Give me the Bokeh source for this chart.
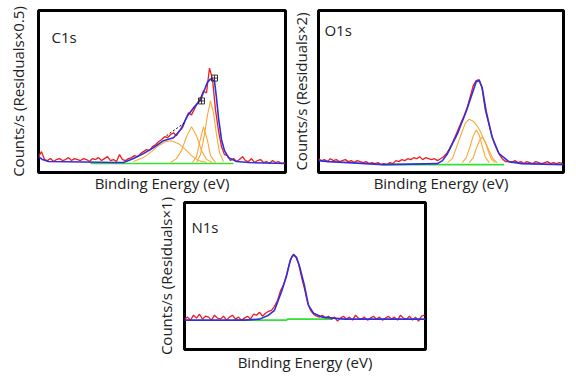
from bokeh.plotting import figure
from bokeh.models import Range1d, Label, FixedTicker, Spacer
from bokeh.layouts import column, row
from bokeh.embed import file_html
from bokeh.resources import INLINE

# ---------------- C1s ----------------
c1s_step = 3
c1s_counts = [16, 21, 13, 12, 14, 11, 13, 14, 12, 13, 15, 12, 14, 13, 12, 14, 13, 11, 14, 13,
              15, 12, 14, 16, 12, 13, 11, 18, 13, 12, 14, 15, 17, 16, 19, 21, 23, 22, 26, 28,
              31, 33, 36, 35, 38, 40, 37, 42, 45, 53, 60, 58, 64, 70, 75, 82, 80, 105, 94, 63,
              42, 26, 18, 17, 12, 14, 11, 13, 16, 12, 11, 14, 10, 12, 13, 10, 11, 9, 12, 10,
              11, 9, 10]
c1s_env_x = [0, 4, 10, 78, 85, 95, 105, 115, 125, 135, 142, 149, 155, 162, 169, 172, 176, 178,
             180, 183, 186, 190, 198, 210, 247]
c1s_env_y = [16, 13, 11, 10, 10, 14, 19, 25, 32, 35, 43, 57, 65, 73, 91, 94, 92, 75,
             55, 33, 22, 15, 11, 10, 9]
c1s_comp1_x = [95, 105, 113, 120, 127, 133, 140, 147, 153, 160, 168]
c1s_comp1_y = [11, 15, 21, 27, 31, 32, 29, 23, 17, 12, 10]
c1s_comp2_x = [132, 138, 143, 148, 153, 158, 163, 168, 174]
c1s_comp2_y = [10, 14, 22, 36, 46, 37, 22, 13, 10]
c1s_comp3_x = [154, 158, 161, 165, 169, 172, 177]
c1s_comp3_y = [10, 16, 30, 46, 32, 17, 10]
c1s_comp4_x = [158, 162, 166, 169, 172, 175, 178, 181, 185]
c1s_comp4_y = [10, 18, 38, 58, 72, 60, 38, 20, 11]
c1s_bg_x = [52, 195]
c1s_bg_y = [9, 9]
c1s_res_x = [128, 146]
c1s_res_y = [37, 50]
c1s_mark_x = [163, 176]
c1s_mark_y = [72, 95]

# ---------------- O1s ----------------
o1s_step = 3
o1s_counts = [14, 12, 13, 11, 14, 12, 13, 11, 12, 13, 11, 12, 10, 12, 11, 10, 11, 9, 10, 9,
              10, 8, 9, 8, 10, 9, 12, 11, 13, 12, 14, 13, 15, 14, 16, 13, 15, 14, 13, 14,
              12, 14, 16, 19, 24, 30, 37, 44, 51, 58, 66, 77, 88, 93, 94, 85, 64, 52, 40, 30,
              23, 17, 13, 11, 11, 10, 12, 10, 11, 9, 11, 10, 9, 11, 10, 9, 10, 11, 9, 10,
              9, 10, 9]
o1s_env_x = [0, 10, 30, 65, 120, 125, 130, 140, 149, 155, 159, 162, 165, 169, 175, 182, 192,
             205, 247]
o1s_env_y = [12, 11, 10, 8, 9, 12, 19, 39, 62, 80, 92, 93, 86, 62, 36, 19, 11, 9, 8]
o1s_comp1_x = [130, 135, 140, 145, 148, 152, 156, 160, 163, 167, 172, 176, 180]
o1s_comp1_y = [10, 14, 28, 42, 50, 54, 52, 47, 42, 33, 22, 14, 10]
o1s_comp2_x = [145, 149, 153, 156, 159, 162, 165, 168, 172]
o1s_comp2_y = [10, 15, 27, 37, 43, 38, 27, 16, 10]
o1s_comp3_x = [152, 156, 159, 162, 165, 168, 171, 174, 178]
o1s_comp3_y = [10, 15, 24, 32, 36, 31, 22, 14, 10]
o1s_bg_x = [64, 187]
o1s_bg_y = [8, 8]

# ---------------- N1s ----------------
n1s_step = 3
n1s_counts = [31, 33, 30, 35, 32, 36, 31, 34, 33, 30, 35, 32, 31, 34, 30, 33, 35, 31, 33, 30,
              32, 34, 31, 36, 35, 38, 34, 37, 39, 40, 44, 50, 60, 66, 76, 88, 96, 95, 88, 74,
              62, 48, 40, 36, 34, 33, 35, 32, 34, 31, 33, 29, 32, 34, 31, 33, 30, 35, 32, 31,
              33, 30, 32, 34, 31, 33, 30, 32, 34, 31, 33, 30, 35, 32, 31, 34, 30, 33, 29, 34,
              35]
n1s_env_x = [0, 60, 75, 84, 90, 97, 102, 106, 109, 112, 115, 120, 124, 129, 138, 160, 241]
n1s_env_y = [30, 30, 31, 35, 40, 59, 75, 92, 97, 94, 85, 65, 45, 37, 33, 31, 31]
n1s_bg_x = [50, 102, 103, 148]
n1s_bg_y = [30, 30, 31, 31]

FONT = "Open Sans"
RED = "#ee1c1c"
BLUE = "#2f2fe0"
ORANGE = "#f8a838"
GREEN = "#33e033"


def panel(width, height, mbl, mbr, mbt, mbb, xmax, ymax, ylabel, xstand, ystand):
    p = figure(width=width, height=height, output_backend="svg", toolbar_location=None,
               title=None,
               x_range=Range1d(0, xmax), y_range=Range1d(0, ymax),
               min_border_left=mbl, min_border_right=mbr,
               min_border_top=mbt, min_border_bottom=mbb)
    p.grid.visible = False
    p.outline_line_color = "black"
    p.outline_line_width = 3
    p.background_fill_color = "white"
    p.border_fill_color = "white"
    for ax in (p.xaxis[0], p.yaxis[0]):
        ax.ticker = FixedTicker(ticks=[])
        ax.axis_line_color = None
        ax.major_tick_line_color = None
        ax.minor_tick_line_color = None
        ax.major_tick_out = 0
        ax.major_tick_in = 0
        ax.major_label_standoff = 0
        ax.axis_label_text_font = FONT
        ax.axis_label_text_font_size = "15px"
        ax.axis_label_text_font_style = "normal"
        ax.axis_label_text_color = "#222222"
    p.xaxis.axis_label = "Binding Energy (eV)"
    p.yaxis.axis_label = ylabel
    p.xaxis.axis_label_standoff = xstand
    p.yaxis.axis_label_standoff = ystand
    return p


def title(p, txt, x, y):
    p.add_layout(Label(x=x, y=y, text=txt, text_font=FONT, text_font_size="15px",
                       text_baseline="top", text_color="#222222"))


# C1s
p1 = panel(287, 196, 38, 2, 10, 23, 247, 163, "Counts/s (Residuals×0.5)", 0, 11)
p1.line(c1s_bg_x, c1s_bg_y, color=GREEN, line_width=1.6)
for cx, cy in ((c1s_comp1_x, c1s_comp1_y), (c1s_comp2_x, c1s_comp2_y),
               (c1s_comp3_x, c1s_comp3_y), (c1s_comp4_x, c1s_comp4_y)):
    p1.line(cx, cy, color=ORANGE, line_width=1.1)
p1.line([i * c1s_step for i in range(len(c1s_counts))], c1s_counts, color=RED, line_width=1.3)
p1.line(c1s_env_x, c1s_env_y, color=BLUE, line_width=1.6)
p1.line(c1s_res_x, c1s_res_y, color="black", line_width=1, line_dash="2 2")
p1.scatter(c1s_mark_x, c1s_mark_y, marker="square_cross", size=6, fill_color=None,
           line_color="#333333", line_width=1)
title(p1, "C1s", 13, 146)

# O1s
p2 = panel(279, 196, 31, 3, 8, 24, 247, 164, "Counts/s (Residuals×2)", 0, 8)
p2.line(o1s_bg_x, o1s_bg_y, color=GREEN, line_width=1.6)
for cx, cy in ((o1s_comp1_x, o1s_comp1_y), (o1s_comp2_x, o1s_comp2_y),
               (o1s_comp3_x, o1s_comp3_y)):
    p2.line(cx, cy, color=ORANGE, line_width=1.1)
p2.line([i * o1s_step for i in range(len(o1s_counts))], o1s_counts, color=RED, line_width=1.3)
p2.line(o1s_env_x, o1s_env_y, color=BLUE, line_width=1.6)
title(p2, "O1s", 6, 154)

# N1s
p3 = panel(278, 178, 32, 5, 6, 22, 241, 150, "Counts/s (Residuals×1)", 2, 9)
p3.line(n1s_bg_x, n1s_bg_y, color=GREEN, line_width=1.6)
p3.line([i * n1s_step for i in range(len(n1s_counts))], n1s_counts, color=RED, line_width=1.3)
p3.line(n1s_env_x, n1s_env_y, color=BLUE, line_width=1.6)
title(p3, "N1s", 7, 135)

layout = column(row(p1, p2), row(Spacer(width=152, height=178), p3))
open("out.html", "w").write(file_html(layout, INLINE))
